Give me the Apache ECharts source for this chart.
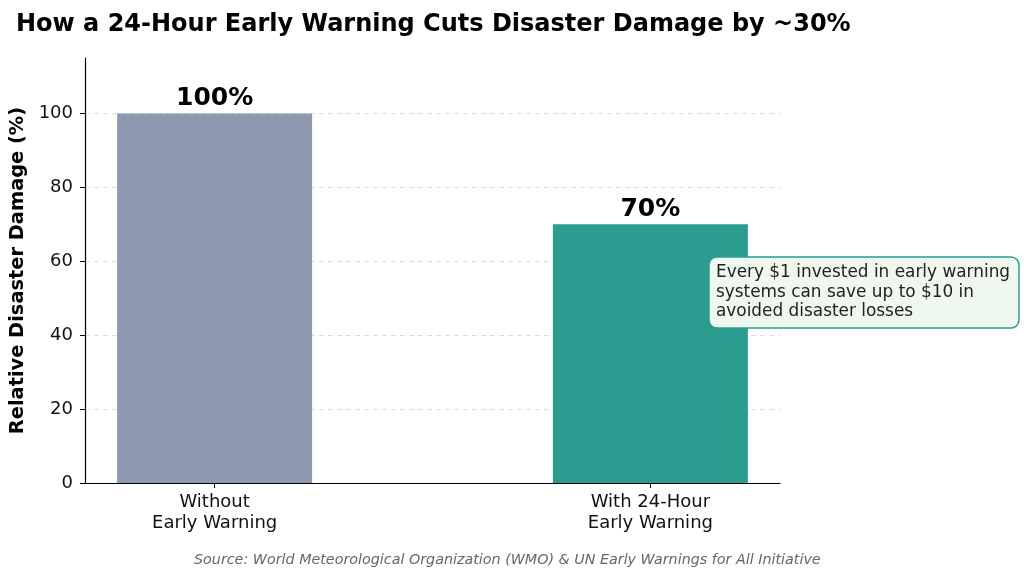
<!DOCTYPE html>
<html>
<head>
<meta charset="utf-8">
<script src="https://cdn.jsdelivr.net/npm/echarts@6/dist/echarts.min.js"></script>
<style>
  html, body { margin: 0; padding: 0; background: #fff; }
  #chart { width: 1024px; height: 581px; }
</style>
</head>
<body>
<div id="chart"></div>
<script>
// chart data
var categories = ['Without\nEarly Warning', 'With 24-Hour\nEarly Warning'];
var damageValues = [100, 70];
var barColors = ['#8d99ae', '#2a9d8f'];
var yTicks = [0, 20, 40, 60, 80, 100];
var noteText = 'Every $1 invested in early warning\nsystems can save up to $10 in\navoided disaster losses';

var font = "'DejaVu Sans', sans-serif";
var chart = echarts.init(document.getElementById('chart'));

chart.setOption({
    animation: false,
    textStyle: { fontFamily: font },
    title: {
        text: 'How a 24-Hour Early Warning Cuts Disaster Damage by ~30%',
        left: 11,
        top: 8,
        textStyle: { fontSize: 24, fontWeight: 'bold', color: '#000', fontFamily: font }
    },
    grid: { left: 85, right: 244, top: 58, bottom: 98 },
    xAxis: {
        type: 'value',
        min: -0.2975,
        max: 1.2975,
        splitLine: { show: false },
        axisLine: { onZero: false, lineStyle: { color: '#000', width: 1.2 } },
        axisTick: { customValues: [0, 1], length: 5, lineStyle: { color: '#000' } },
        axisLabel: {
            customValues: [0, 1],
            formatter: function (v) { return categories[Math.round(v)]; },
            fontSize: 18,
            color: '#111',
            lineHeight: 21,
            margin: 9,
            fontFamily: font
        }
    },
    yAxis: {
        type: 'value',
        min: 0,
        max: 115,
        interval: 20,
        name: 'Relative Disaster Damage (%)',
        nameLocation: 'middle',
        nameGap: 54,
        nameTextStyle: { fontSize: 19.4, fontWeight: 'bold', color: '#000', fontFamily: font },
        axisLine: { show: true, onZero: false, lineStyle: { color: '#000', width: 1.2 } },
        axisTick: { show: true, customValues: yTicks, length: 5, lineStyle: { color: '#000' } },
        axisLabel: { customValues: yTicks, fontSize: 18, color: '#111', margin: 12, fontFamily: font },
        splitLine: {
            show: true,
            lineStyle: { type: [5, 4], color: '#dddddd', width: 1 }
        }
    },
    series: [
        {
            type: 'bar',
            barWidth: 195,
            z: 2,
            data: damageValues.map(function (v, i) {
                return { value: [i, v], itemStyle: { color: barColors[i] } };
            }),
            label: {
                show: true,
                position: 'top',
                distance: 2,
                formatter: function (p) { return p.value[1] + '%'; },
                fontSize: 25,
                fontWeight: 'bold',
                color: '#000',
                fontFamily: font
            }
        }
    ],
    graphic: [
        {
            type: 'rect',
            z: 100,
            shape: { x: 709, y: 257, width: 310, height: 71, r: 8 },
            style: { fill: '#eef8ee', stroke: '#2a9d8f', lineWidth: 1.5 }
        },
        {
            type: 'text',
            z: 101,
            left: 716,
            top: 263,
            style: {
                text: noteText,
                fontSize: 16.9,
                lineHeight: 19.5,
                fill: '#222',
                fontFamily: font
            }
        },
        {
            type: 'text',
            left: 194,
            top: 553,
            style: {
                text: 'Source: World Meteorological Organization (WMO) & UN Early Warnings for All Initiative',
                fontSize: 14.3,
                fontStyle: 'italic',
                fill: '#666',
                fontFamily: font
            }
        }
    ]
});
</script>
</body>
</html>
